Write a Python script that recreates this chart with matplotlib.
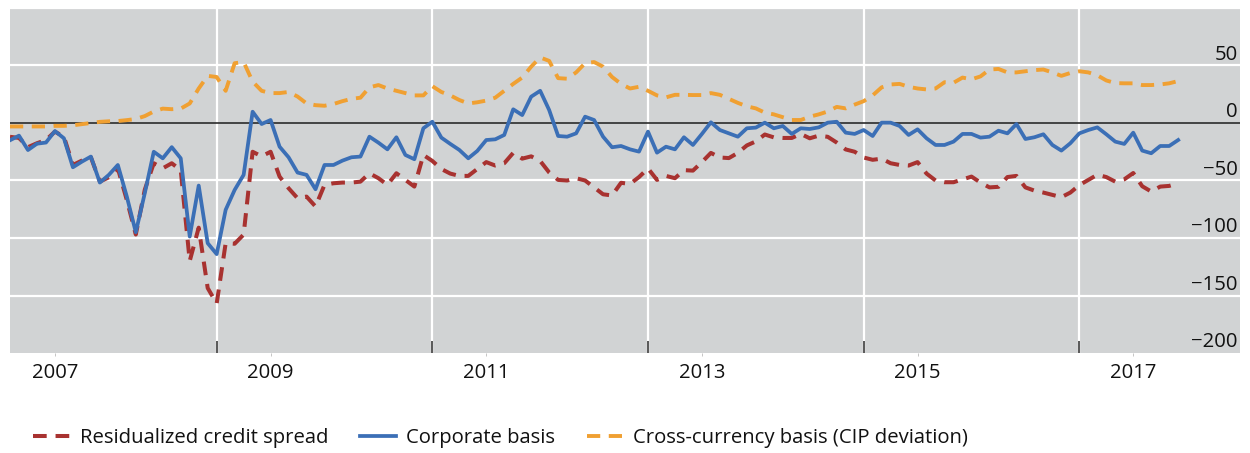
import numpy as np
import matplotlib.pyplot as plt
from matplotlib.transforms import blended_transform_factory

# Monthly data, Feb 2007 to Dec 2017 (basis points)
start_year, start_month = 2007, 2

credit_spread = [
    -12, -13, -21, -17.6, -14.8, -7.5, -12, -36.5, -32.7, -29.8,
    -51, -47.2, -39.4, -67, -97, -58, -35, -39.4, -35, -41,
    -120, -91, -143.5, -157, -104.5, -105, -97, -25, -29, -25,
    -46.6, -56.7, -65.4, -64, -72.6, -53.8, -52.4, -51.8, -51.8, -51,
    -43.7, -48, -53.8, -43.7, -49.5, -55.3, -27.8, -33, -40, -44,
    -46, -46, -40, -34, -37, -35, -26, -31, -29, -33,
    -43, -49.5, -50, -48, -50, -56, -62, -63, -52, -53,
    -47, -39.5, -49.5, -46, -48, -41, -41.4, -34, -26, -30,
    -30.5, -26, -19.5, -16, -10, -12.5, -13, -13, -9.5, -13.3,
    -11, -12, -17, -23, -25, -30, -32, -31, -35, -36.5,
    -37, -34, -44, -50, -51.5, -51.5, -49, -46.6, -51.8, -56,
    -55.5, -47, -46, -56, -58.8, -60.5, -62.5, -64.5, -60.5, -54,
    -49.5, -45, -47, -51, -49, -43.5, -55, -59.6, -55.3, -54.7,
    -52.4,
]

corporate_basis = [
    -15, -11, -23.5, -18, -17, -7, -13.3, -38.5, -33.6, -29.2,
    -51.8, -45.1, -36.5, -64, -95, -61, -25, -30.7, -21, -30.7,
    -98.7, -54.4, -104.5, -114, -75.5, -58.2, -45.1, 9.8, -0.9, 2.6,
    -20.6, -29.8, -43.1, -45.1, -57.6, -36.5, -36.5, -32.7, -29.8, -29.2,
    -11.9, -17.1, -22.9, -12.4, -27.8, -31.5, -4.6, 1.1, -12.7, -18.2,
    -23.4, -30.7, -24.3, -14.8, -14.2, -10.4, 11.9, 6.9, 22.9, 28,
    11.3, -11.3, -11.9, -9, 5.5, 2.6, -11.9, -21.1, -20, -22.9,
    -24.9, -7.5, -25.8, -20.6, -22.9, -12.4, -19.1, -9.5, 0.6, -6.1,
    -9, -11.9, -4.6, -4, 0.3, -4.6, -2.6, -9.5, -4.6, -5.2,
    -3.8, 0.3, 1.1, -8.4, -9.5, -6.1, -11.3, 0.3, 0.3, -2.6,
    -10.4, -5.5, -13.3, -19.1, -19.1, -16.2, -9.5, -9.5, -12.7, -11.9,
    -6.7, -9, -0.9, -13.9, -12.4, -9.8, -19.1, -24, -17.6, -9,
    -6.1, -3.8, -9.8, -16.2, -18.2, -8.4, -24, -26.3, -20, -20,
    -14.8,
]

cip_deviation = [
    -3, -3, -3, -3, -3, -2.5, -2.5, -2, -1, 0,
    1, 1.5, 1.7, 2.5, 3.5, 6, 10, 12.5, 12, 12.5,
    17, 30, 41, 40, 28, 52, 53, 36, 28, 26,
    26, 27, 23, 17, 15.5, 15, 16.5, 19, 21, 22,
    31, 33, 30, 28, 26, 24, 24, 32, 27, 24,
    20, 17, 18, 19.5, 22, 28, 34, 39.5, 49, 57,
    54, 39, 38.5, 44, 52, 53, 49, 40, 34, 30,
    31.5, 28, 24, 22.3, 24.5, 24.5, 24.3, 24.3, 26, 24.5,
    21, 17.5, 14.5, 12.7, 9, 7.5, 5, 2.6, 2.6, 5.5,
    7.5, 10, 14, 12.7, 16, 19, 24, 31, 33.5, 34,
    31.5, 30, 29.2, 30, 35.5, 35, 39.5, 38, 40.5, 46.5,
    47, 44, 44, 45, 46, 46.5, 44, 41, 43.5, 45,
    44, 41.5, 37, 34.7, 34.5, 34.5, 33, 33, 33.5, 34.5,
    36.5,
]

year_labels = ["2007", "2009", "2011", "2013", "2015", "2017"]
y_ticks = [50, 0, -50, -100, -150, -200]
y_labels = ["50", "0", "\u221250", "\u2212100", "\u2212150", "\u2212200"]

n = len(corporate_basis)
x = start_year + (start_month - 1 + np.arange(n)) / 12.0

plt.rcParams['font.family'] = ['Open Sans', 'DejaVu Sans']
FS = 14.6
TXT = '#111111'

fig = plt.figure(figsize=(12.5, 4.53), dpi=100)
ax = fig.add_axes([10 / 1250, 1 - 353 / 453, 1230 / 1250, 345 / 453])
ax.set_facecolor('#d1d3d4')
for s in ax.spines.values():
    s.set_visible(False)

ax.set_xlim(2007 + 1 / 12, 2018.49)
ax.set_ylim(-200, 100)

# grid
for v in [-150, -100, -50, 50, 100]:
    ax.axhline(v, color='white', lw=1.6, zorder=1)
for yr in range(2009, 2018, 2):
    ax.axvline(yr, color='white', lw=1.6, zorder=1)
ax.axhline(0, color='#2b2b2b', lw=1.2, zorder=2)

ax.plot(x, cip_deviation, color='#f0a032', lw=2.8, dashes=(3.4, 2.2),
        dash_capstyle='butt', label='Cross-currency basis (CIP deviation)', zorder=3)
ax.plot(x, credit_spread, color='#a83230', lw=2.9, dashes=(3.4, 2.2),
        dash_capstyle='butt', label='Residualized credit spread', zorder=3)
ax.plot(x, corporate_basis, color='#3b6fb6', lw=2.7,
        label='Corporate basis', zorder=4)

# x axis: ticks at odd years (inside), labels at mid-year
ax.set_xticks(range(2009, 2018, 2))
ax.set_xticklabels([])
ax.tick_params(axis='x', which='major', direction='in', length=9,
               width=1.1, color='#2b2b2b')
ax.set_xticks([int(l) + 0.5 for l in year_labels], minor=True)
ax.set_xticklabels(year_labels, minor=True)
ax.tick_params(axis='x', which='minor', direction='out', length=2,
               width=0.6, color='#bbbbbb', pad=5, labelsize=FS,
               labelcolor=TXT)

# y labels inside right, above gridlines
ax.set_yticks([])
tr = blended_transform_factory(ax.transAxes, ax.transData)
for v, lab in zip(y_ticks, y_labels):
    ax.annotate(lab, xy=(0.998, v), xycoords=tr, xytext=(0, 0.5),
                textcoords='offset points', ha='right', va='bottom',
                fontsize=FS, color=TXT)

h, l = ax.get_legend_handles_labels()
order = [1, 2, 0]
fig.legend([h[i] for i in order], [l[i] for i in order],
           loc='center left', bbox_to_anchor=(33 / 1250, 15 / 453),
           ncol=3, frameon=False, fontsize=FS, handlelength=1.8,
           handletextpad=0.5, columnspacing=1.55, borderpad=0,
           borderaxespad=0, labelcolor=TXT)

fig.savefig('out.png', dpi=100)
